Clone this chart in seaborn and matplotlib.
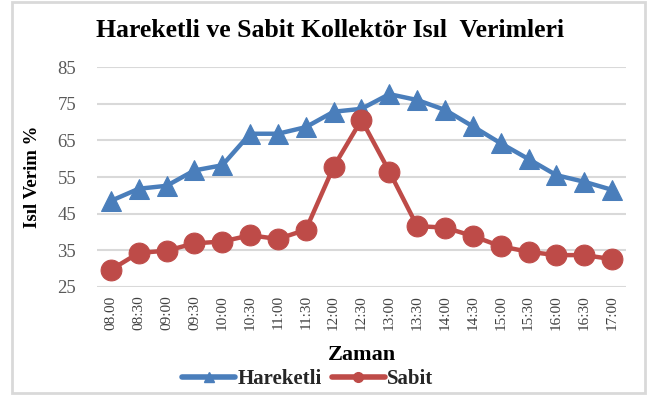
import matplotlib
matplotlib.use("Agg")
import matplotlib.pyplot as plt
import seaborn as sns
import pandas as pd
from matplotlib.patches import Rectangle
from matplotlib.lines import Line2D

times = ["08.00", "08:30", "09:00", "09:30", "10:00", "10:30", "11:00", "11:30",
         "12:00", "12:30", "13:00", "13:30", "14:00", "14:30", "15:00", "15:30",
         "16:00", "16:30", "17:00"]
hareketli = [48.5, 51.8, 52.6, 56.8, 58.2, 66.8, 66.8, 68.6, 72.8, 73.6, 77.6,
             76.0, 73.3, 68.8, 64.2, 59.9, 55.5, 53.7, 51.5]
sabit = [29.7, 34.3, 34.9, 36.9, 37.4, 39.1, 38.1, 40.6, 57.8, 70.6, 56.5,
         41.6, 41.2, 38.9, 36.1, 34.6, 33.7, 33.7, 32.6]
y_ticks = [25, 35, 45, 55, 65, 75, 85]

sns.set_theme(style="white")
plt.rcParams['font.family'] = ['Liberation Serif', 'DejaVu Serif']

fig = plt.figure(figsize=(6.49, 4.01), dpi=100)
ax = fig.add_axes([0.1495, 0.2843, 0.815, 0.5486])

pos = list(range(len(times)))
df = pd.DataFrame({"pos": pos, "Hareketli": hareketli, "Sabit": sabit})

blue = "#4A7EBB"
red = "#BE4B48"
sns.lineplot(data=df, x="pos", y="Hareketli", ax=ax, color=blue, lw=3.2,
             marker="^", markersize=15, markeredgecolor=blue, zorder=3)
sns.lineplot(data=df, x="pos", y="Sabit", ax=ax, color=red, lw=3.2,
             marker="o", markersize=15, markeredgecolor=red, zorder=3)

ax.set_xlim(-0.5, len(times) - 0.5)
ax.set_ylim(25, 85)
ax.set_yticks(y_ticks)
ax.set_yticklabels([str(t) for t in y_ticks], fontsize=13.5, color="#595959")
ax.set_xticks(pos)
ax.set_xticklabels(times, rotation=90, fontsize=11, color="#404040")
ax.tick_params(axis="y", length=0, pad=15)
ax.tick_params(axis="x", length=0, pad=6)
ax.yaxis.grid(True, color="#d9d9d9", lw=1.5)
ax.xaxis.grid(False)
for s in ax.spines.values():
    s.set_visible(False)

ax.set_ylabel("Isıl Verim %", fontsize=13.5, fontweight="bold", color="black")
ax.yaxis.set_label_coords(-0.105, 0.5)
ax.set_xlabel("Zaman", fontsize=16, fontweight="bold", color="black", labelpad=11)

fig.text(0.508, 0.925, "Hareketli ve Sabit Kollektör Isıl  Verimleri", ha="center",
         va="center", fontsize=18.5, fontweight="bold", color="black")

handles = [Line2D([], [], color=blue, lw=4, marker="^", markersize=7),
           Line2D([], [], color=red, lw=4, marker="o", markersize=7)]
fig.legend(handles, ["Hareketli", "Sabit"], loc="center", bbox_to_anchor=(0.474, 0.055), ncol=2,
           frameon=False, handlelength=2.55, handletextpad=0.1, columnspacing=0.5,
           prop={"family": "Liberation Serif", "weight": "bold", "size": 15})

fig.patches.append(Rectangle((12 / 649, 1 - 393 / 401), (645 - 12) / 649, 391 / 401,
                             transform=fig.transFigure, fill=False,
                             edgecolor="#d9d9d9", lw=2))

fig.savefig("out.png", dpi=100)
